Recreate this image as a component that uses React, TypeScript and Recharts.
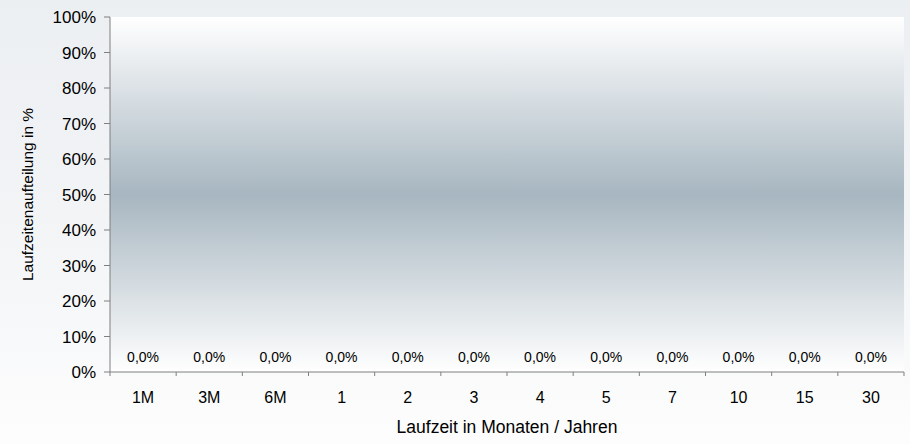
import { Bar, CartesianGrid, ComposedChart, LabelList, Line, XAxis, YAxis } from "recharts"

const maturities = ["1M", "3M", "6M", "1", "2", "3", "4", "5", "7", "10", "15", "30"]
const shares = [0, 0, 0, 0, 0, 0, 0, 0, 0, 0, 0, 0]
const yTicks = [0, 10, 20, 30, 40, 50, 60, 70, 80, 90, 100]

const data = maturities.map((name, i) => ({ name, share: shares[i] }))

const W = 910
const H = 444
const margin = { top: 17, right: 6, bottom: 0, left: 0 }
const yAxisWidth = 110
const band = (W - margin.left - margin.right - yAxisWidth) / maturities.length

const font = "'Liberation Sans', Arial, sans-serif"
const axisColor = "#7f7f7f"
const textColor = "#000000"

const fmtPct = (v: number) => `${v.toFixed(1).replace(".", ",")}%`

function MaturityTick(props: any) {
  const { x, y, payload, index } = props
  const top = y - 20
  return (
    <g>
      <line x1={x - band / 2} x2={x - band / 2} y1={top} y2={top + 4} stroke={axisColor} />
      {index === maturities.length - 1 && (
        <line x1={x + band / 2} x2={x + band / 2} y1={top} y2={top + 4} stroke={axisColor} />
      )}
      <text x={x} y={y} dy="0.71em" textAnchor="middle" fill={textColor} fontSize={16} fontFamily={font}>
        {payload.value}
      </text>
    </g>
  )
}

function PercentTick(props: any) {
  const { x, y, payload } = props
  return (
    <text x={x} y={y} dy="0.355em" textAnchor="end" fill={textColor} fontSize={17} fontFamily={font}>
      {`${payload.value}%`}
    </text>
  )
}

export default function App() {
  return (
    <div
      style={{
        position: "fixed",
        top: 0,
        left: 0,
        width: W,
        height: H,
        background: "linear-gradient(to bottom, #eceff2 0%, #f2f4f6 50%, #fdfdfd 100%)",
        fontFamily: font,
      }}
    >
      <ComposedChart width={W} height={H} data={data} margin={margin}>
        <defs>
          <linearGradient id="plotBg" x1="0" y1="0" x2="0" y2="1">
            <stop offset="0%" stopColor="#ffffff" />
            <stop offset="50%" stopColor="#a7b6c0" />
            <stop offset="100%" stopColor="#ffffff" />
          </linearGradient>
        </defs>
        <CartesianGrid horizontal={false} vertical={false} fill="url(#plotBg)" />
        <XAxis
          dataKey="name"
          height={72}
          stroke={axisColor}
          tickLine={false}
          tickSize={4}
          tickMargin={16}
          tick={<MaturityTick />}
          label={{
            value: "Laufzeit in Monaten / Jahren",
            position: "insideBottom",
            offset: 11,
            fill: textColor,
            fontSize: 17.5,
          }}
        />
        <YAxis
          width={yAxisWidth}
          domain={[0, 100]}
          ticks={yTicks}
          interval={0}
          stroke={axisColor}
          tickSize={6}
          tickMargin={8}
          tick={<PercentTick />}
          label={{
            value: "Laufzeitenaufteilung in %",
            angle: -90,
            position: "insideLeft",
            offset: 27,
            fill: textColor,
            fontSize: 15.5,
            style: { textAnchor: "middle" },
          }}
        />
        <Bar dataKey="share" fill="#4f6b8a" isAnimationActive={false} />
        <Line
          dataKey="share"
          stroke="none"
          dot={false}
          activeDot={false}
          legendType="none"
          isAnimationActive={false}
        >
          <LabelList
            dataKey="share"
            position="top"
            offset={10}
            formatter={(v: any) => fmtPct(Number(v))}
            fill={textColor}
            fontSize={14}
            fontFamily={font}
          />
        </Line>
      </ComposedChart>
    </div>
  )
}
